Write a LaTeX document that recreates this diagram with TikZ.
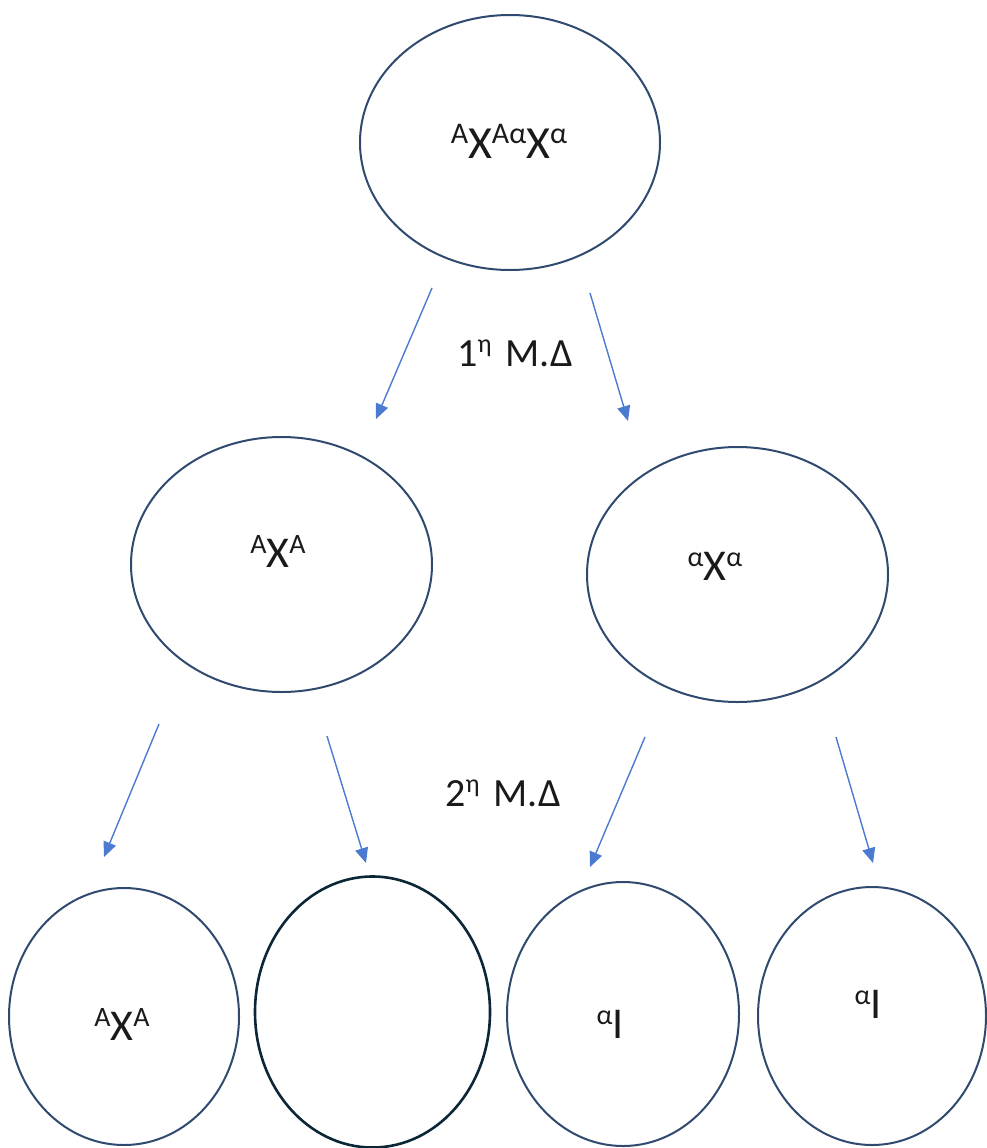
\documentclass[tikz,border=0pt]{standalone}
\usepackage{fontspec}
\setmainfont{Carlito}
\usetikzlibrary{shapes.geometric,arrows.meta}

\definecolor{cellline}{HTML}{2F4A6E}
\definecolor{darkline}{HTML}{0B2636}
\definecolor{arrowblue}{HTML}{4A7BD0}
\definecolor{ink}{HTML}{1A1A1A}

% raised small text after a large letter: \hi{size}{raise}{text}
\newcommand\hi[3]{\raisebox{#2pt}{\fontsize{#1}{#1}\selectfont #3}}

\begin{document}
\begin{tikzpicture}[x=1pt,y=-1pt,
  cell/.style={ellipse,draw=cellline,line width=2pt,inner sep=0pt,fill=none},
  geno/.style={anchor=base,text=ink,inner sep=0pt,font=\fontsize{44}{48}\selectfont},
  stage/.style={anchor=base,text=ink,inner sep=0pt,font=\fontsize{40}{44}\selectfont},
  split/.style={draw=arrowblue,line width=1.4pt,-{Triangle[length=15pt,width=13pt]}}]

\useasboundingbox (0,0) rectangle (986,1148);

% cells
\node[cell,minimum width=300pt,minimum height=255pt] (p)  at (510,142.5) {};
\node[cell,minimum width=301pt,minimum height=255pt] (m1) at (281.5,564.5) {};
\node[cell,minimum width=301pt,minimum height=255pt] (m2) at (737.5,574.5) {};
\node[cell,minimum width=230pt,minimum height=257pt] (g1) at (124,1016.5) {};
\node[cell,draw=darkline,line width=2.6pt,minimum width=235pt,minimum height=271pt] (g2) at (372.5,1012) {};
\node[cell,minimum width=232pt,minimum height=264pt] (g3) at (623,1014) {};
\node[cell,minimum width=228pt,minimum height=258pt] (g4) at (872,1016) {};

% chromosome labels
\node[geno,font=\fontsize{46}{50}\selectfont] (tp) at (509,158)
  {\hi{30}{15}{Α}Χ\hi{30}{15}{Αα}Χ\hi{30}{15}{α}};
\node[geno] (tm1) at (278,567) {\hi{28}{14}{Α}Χ\hi{28}{14}{Α}};
\node[geno] (tm2) at (715,580) {\hi{28}{14}{α}Χ\hi{28}{14}{α}};
\node[geno] (tg1) at (122,1040) {\hi{28}{14}{Α}Χ\hi{28}{14}{Α}};
\node[geno] (tg3) at (610,1038) {\hi{28}{14}{α}Ι};
\node[geno] (tg4) at (868,1018) {\hi{28}{14}{α}Ι};

% division labels
\node[stage] (d1) at (515,366) {1\hi{26}{14}{η}\hspace{0.35em}Μ.Δ};
\node[stage] (d2) at (503,806) {2\hi{26}{14}{η}\hspace{0.35em}Μ.Δ};

% arrow ends
\coordinate (a1s) at (432,288);  \coordinate (a1e) at (376,419);
\coordinate (a2s) at (590,293);  \coordinate (a2e) at (628,421);
\coordinate (a3s) at (159,724);  \coordinate (a3e) at (104,857);
\coordinate (a4s) at (327,736);  \coordinate (a4e) at (366,863);
\coordinate (a5s) at (645,737);  \coordinate (a5e) at (590,867);
\coordinate (a6s) at (836,737);  \coordinate (a6e) at (873,863);

\draw[split] (a1s) -- (a1e);
\draw[split] (a2s) -- (a2e);
\draw[split] (a3s) -- (a3e);
\draw[split] (a4s) -- (a4e);
\draw[split] (a5s) -- (a5e);
\draw[split] (a6s) -- (a6e);
\end{tikzpicture}
\end{document}
